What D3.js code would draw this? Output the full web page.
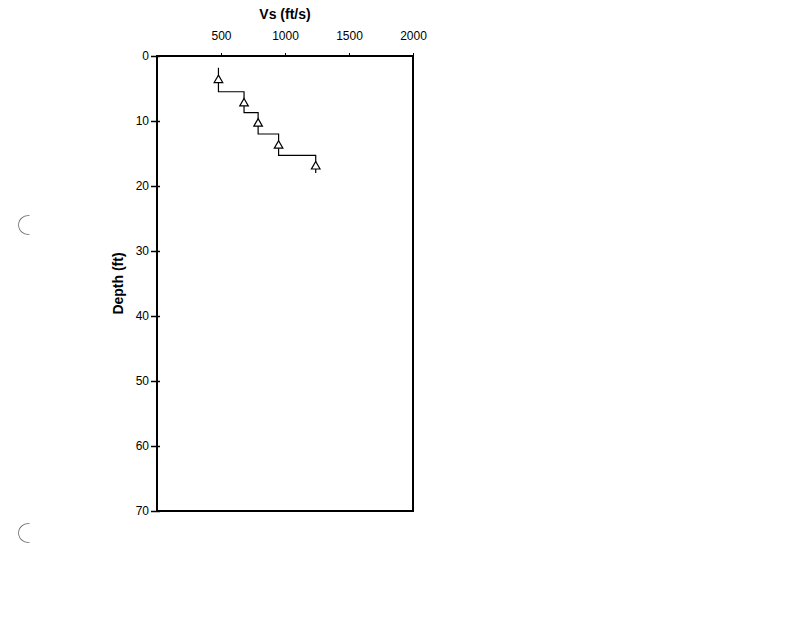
<!DOCTYPE html>
<html>
<head>
<meta charset="utf-8">
<script src="https://cdn.jsdelivr.net/npm/d3@7"></script>
<style>
  body { margin: 0; background: #fff; }
  text { font-family: Arial, "Liberation Sans", sans-serif; }
</style>
</head>
<body>
<script>
// shear wave velocity profile, step layers
var layerVs     = [480, 680, 790, 950, 1240];
var layerTop    = [1.8, 5.5, 8.7, 12.0, 15.3];
var layerBottom = [5.5, 8.7, 12.0, 15.3, 18.0];
// measurement points (triangles)
var pointVs     = [480, 680, 790, 950, 1240];
var pointDepth  = [3.7, 7.3, 10.4, 13.8, 17.0];

var xTicks = [500, 1000, 1500, 2000];
var yTicks = [0, 10, 20, 30, 40, 50, 60, 70];

var width = 800, height = 618;
var margin = {left: 157, right: 387, top: 56, bottom: 107};

var svg = d3.select("body").append("svg")
    .attr("width", width)
    .attr("height", height);

var x = d3.scaleLinear().domain([0, 2000]).range([margin.left, width - margin.right]);
var y = d3.scaleLinear().domain([0, 70]).range([margin.top, height - margin.bottom]);

// frame
svg.append("rect")
    .attr("x", x(0)).attr("y", y(0))
    .attr("width", x(2000) - x(0)).attr("height", y(70) - y(0))
    .attr("fill", "none").attr("stroke", "#000").attr("stroke-width", 2);

// top axis
var xAxis = d3.axisTop(x).tickValues(xTicks).tickFormat(d3.format("d"))
    .tickSize(3).tickSizeOuter(0);
var gx = svg.append("g").attr("transform", "translate(0," + y(0) + ")").call(xAxis);
gx.select(".domain").remove();
gx.selectAll("text").attr("font-size", 12).attr("fill", "#000").attr("dy", "-0.8em")
    .attr("font-family", "Arial, 'Liberation Sans', sans-serif");

// left axis
var yAxis = d3.axisLeft(y).tickValues(yTicks).tickSize(6).tickSizeOuter(0);
var gy = svg.append("g").attr("transform", "translate(" + x(0) + ",0)").call(yAxis);
gy.select(".domain").remove();
gy.selectAll(".tick line").attr("x2", -6).attr("x1", 3).attr("stroke-width", 1.5);
gy.selectAll("text").attr("font-size", 12).attr("fill", "#000").attr("x", -8)
    .attr("font-family", "Arial, 'Liberation Sans', sans-serif");

// axis titles
svg.append("text")
    .attr("x", x(1000)).attr("y", 19)
    .attr("text-anchor", "middle")
    .attr("font-size", 14).attr("font-weight", "bold")
    .text("Vs (ft/s)");

svg.append("text")
    .attr("transform", "translate(" + 123 + "," + y(35) + ") rotate(-90)")
    .attr("text-anchor", "middle")
    .attr("font-size", 14).attr("font-weight", "bold")
    .text("Depth (ft)");

// step profile
var steps = [];
layerVs.forEach(function(v, i) {
  steps.push([v, layerTop[i]]);
  steps.push([v, layerBottom[i]]);
});
var line = d3.line()
    .x(function(d) { return x(d[0]); })
    .y(function(d) { return y(d[1]); });
svg.append("path")
    .datum(steps)
    .attr("d", line)
    .attr("fill", "none")
    .attr("stroke", "#000")
    .attr("stroke-width", 1.2);

// triangles
var tri = d3.symbol().type(d3.symbolTriangle).size(32);
svg.selectAll(".pt")
    .data(pointVs)
    .enter()
    .append("path")
    .attr("class", "pt")
    .attr("d", tri)
    .attr("transform", function(d, i) {
        return "translate(" + x(d) + "," + y(pointDepth[i]) + ")";
    })
    .attr("fill", "#fff")
    .attr("stroke", "#000")
    .attr("stroke-width", 1.2);

// scan hole-punch marks
var arc = d3.arc().innerRadius(9).outerRadius(9.8)
    .startAngle(Math.PI * 0.95).endAngle(Math.PI * 2.05);
[[28, 225], [28, 533]].forEach(function(p) {
  svg.append("path")
      .attr("d", arc())
      .attr("transform", "translate(" + p[0] + "," + p[1] + ")")
      .attr("fill", "#666");
});
</script>
</body>
</html>
